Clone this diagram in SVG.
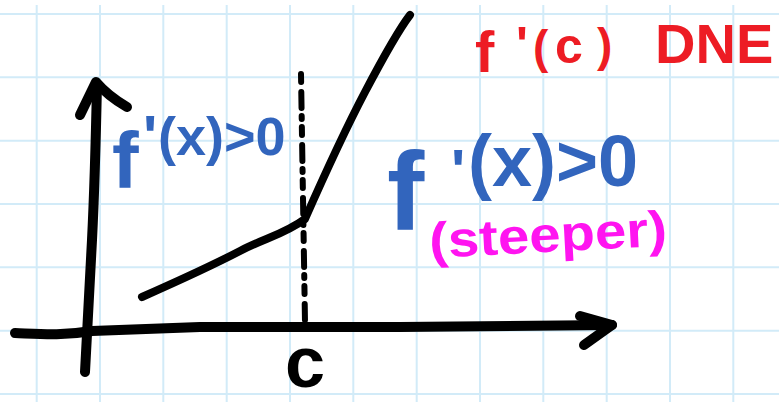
<svg xmlns="http://www.w3.org/2000/svg" width="779" height="402" viewBox="0 0 779 402">
<defs>
<style>
.grid line{stroke:#d2ebf8;stroke-width:2}
.ink{fill:none;stroke:#000;stroke-linecap:round;stroke-linejoin:round}
.blue{fill:#3265bd;font-family:"Liberation Sans",Arial,sans-serif;font-weight:bold}
.red{fill:#ed1c24;font-family:"Liberation Sans",Arial,sans-serif;font-weight:bold}
.pink{fill:#ff14f0;font-family:"Liberation Sans",Arial,sans-serif;font-weight:bold}
.blk{fill:#000;font-family:"Liberation Sans",Arial,sans-serif;font-weight:bold}
</style>
</defs>
<rect width="779" height="402" fill="#fff"/>
<g class="grid" id="grid">
<line x1="36.7" y1="5" x2="36.7" y2="402"/>
<line x1="100" y1="5" x2="100" y2="402"/>
<line x1="163.3" y1="5" x2="163.3" y2="402"/>
<line x1="226.7" y1="5" x2="226.7" y2="402"/>
<line x1="290" y1="5" x2="290" y2="402"/>
<line x1="353.3" y1="5" x2="353.3" y2="402"/>
<line x1="416.7" y1="5" x2="416.7" y2="402"/>
<line x1="480" y1="5" x2="480" y2="402"/>
<line x1="543.3" y1="5" x2="543.3" y2="402"/>
<line x1="606.7" y1="5" x2="606.7" y2="402"/>
<line x1="670" y1="5" x2="670" y2="402"/>
<line x1="733.3" y1="5" x2="733.3" y2="402"/>
<line x1="0" y1="14" x2="779" y2="14"/>
<line x1="0" y1="77.3" x2="779" y2="77.3"/>
<line x1="0" y1="140.7" x2="779" y2="140.7"/>
<line x1="0" y1="204" x2="779" y2="204"/>
<line x1="0" y1="267.3" x2="779" y2="267.3"/>
<line x1="0" y1="330.7" x2="779" y2="330.7"/>
<line x1="0" y1="394" x2="779" y2="394"/>
</g>
<g id="axes">
<path class="ink" stroke-width="10" d="M97,84 Q95,180 92,240 Q89,300 85,372"/>
<path class="ink" stroke-width="10" d="M80,115 L96,82 Q108,96 127,107"/>
<path class="ink" stroke-width="10" d="M15,333 C40,334 62,336 92,331 L200,327 L400,327 L612,325"/>
<path class="ink" stroke-width="10" d="M580,316 L612,325 L584,345"/>
</g>
<g id="curve">
<path class="ink" stroke-width="8" d="M142,297 C185,278 215,264 240,251 S285,234 305,219 C320,185 345,130 365,92 S400,28 410,15"/>
</g>
<g id="dashed">
<path class="ink" stroke-width="6" stroke-dasharray="8 10 16 8 3 8" d="M301,74 L305,322"/>
</g>
<g id="label-c">
<text class="blk" x="285" y="387" font-size="72">c</text>
</g>
<g id="label-left">
<text class="blue" font-size="54"><tspan x="112" y="188" font-size="80">f</tspan><tspan x="143" y="157" font-size="60">'</tspan><tspan x="158" y="155">(x)&gt;0</tspan></text>
</g>
<g id="label-right">
<text class="blue" font-size="72"><tspan x="387" y="230" font-size="112">f</tspan><tspan x="451" y="191" font-size="60">'</tspan><tspan x="468" y="186">(x)&gt;0</tspan></text>
</g>
<g id="label-steeper">
<text class="pink" x="430" y="258" font-size="50" textLength="238" lengthAdjust="spacingAndGlyphs" transform="rotate(-3 430 258)">(steeper)</text>
</g>
<g id="label-dne">
<text class="red" font-size="50"><tspan x="475" y="72" font-size="58">f</tspan><tspan x="516" y="62">'</tspan><tspan x="533" y="63" font-size="46">(</tspan><tspan x="555" y="63">c</tspan><tspan x="597" y="61" font-size="46">)</tspan><tspan x="655" y="63" font-size="56">DNE</tspan></text>
</g>
</svg>
